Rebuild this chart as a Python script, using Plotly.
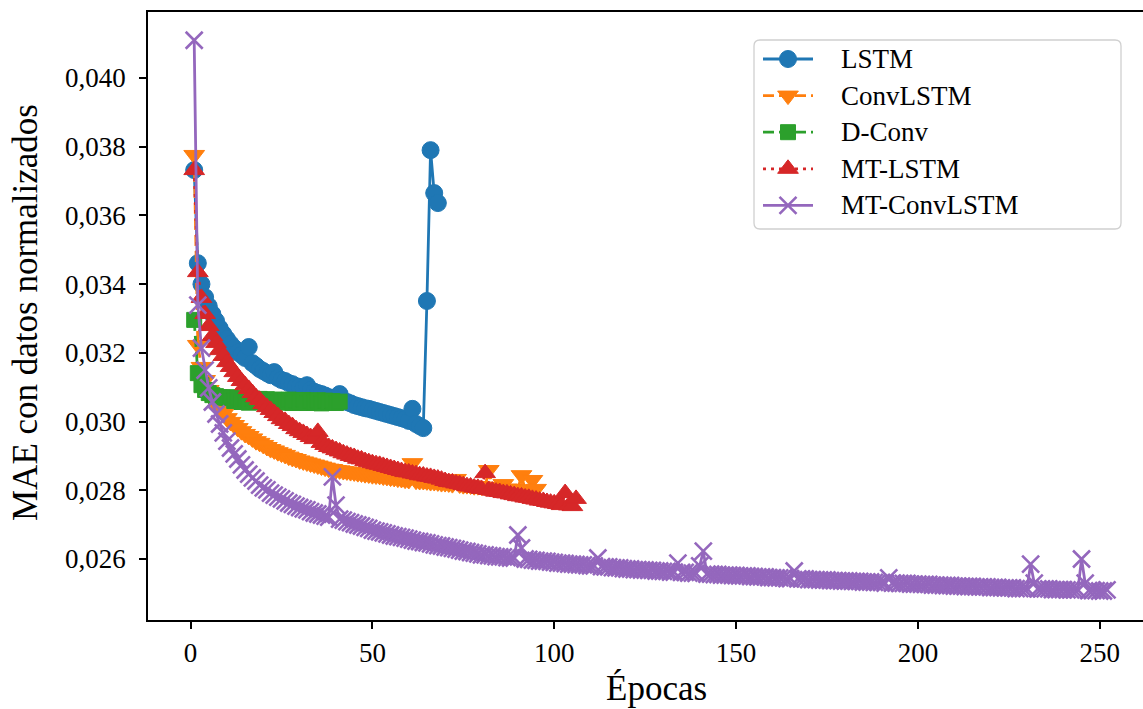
import plotly.graph_objects as go

# ---- data: validation MAE (normalised) per training epoch ----
SERIES_NAMES = ["LSTM", "ConvLSTM", "D-Conv", "MT-LSTM", "MT-ConvLSTM"]

mae_lstm = [
    0.03732, 0.03461, 0.03400, 0.03362, 0.03336, 0.03313, 0.03293, 0.03272, 0.03255, 0.03240,
    0.03226, 0.03214, 0.03202, 0.03194, 0.03185, 0.03217, 0.03170, 0.03162, 0.03153, 0.03147,
    0.03141, 0.03135, 0.03144, 0.03127, 0.03121, 0.03118, 0.03112, 0.03109, 0.03103, 0.03101,
    0.03098, 0.03106, 0.03092, 0.03087, 0.03083, 0.03080, 0.03076, 0.03071, 0.03069, 0.03066,
    0.03080, 0.03060, 0.03057, 0.03053, 0.03048, 0.03045, 0.03042, 0.03039, 0.03037, 0.03034,
    0.03031, 0.03028, 0.03025, 0.03022, 0.03019, 0.03016, 0.03013, 0.03010, 0.03007, 0.03002,
    0.03037, 0.02993, 0.02987, 0.02981, 0.03351, 0.03790, 0.03665, 0.03636,
]

mae_convlstm = [
    0.03776, 0.03223, 0.03159, 0.03121, 0.03092, 0.03069, 0.03051, 0.03037, 0.03022, 0.03010,
    0.02999, 0.02990, 0.02981, 0.02972, 0.02964, 0.02958, 0.02951, 0.02943, 0.02938, 0.02932,
    0.02926, 0.02920, 0.02916, 0.02911, 0.02907, 0.02903, 0.02898, 0.02894, 0.02891, 0.02887,
    0.02884, 0.02881, 0.02878, 0.02875, 0.02872, 0.02869, 0.02866, 0.02863, 0.02862, 0.02859,
    0.02858, 0.02856, 0.02855, 0.02853, 0.02852, 0.02850, 0.02849, 0.02847, 0.02846, 0.02844,
    0.02843, 0.02842, 0.02840, 0.02839, 0.02837, 0.02836, 0.02834, 0.02833, 0.02831, 0.02830,
    0.02879, 0.02828, 0.02827, 0.02827, 0.02826, 0.02824, 0.02824, 0.02823, 0.02821, 0.02821,
    0.02820, 0.02818, 0.02833, 0.02817, 0.02815, 0.02815, 0.02814, 0.02812, 0.02812, 0.02811,
    0.02810, 0.02859, 0.02808, 0.02807, 0.02807, 0.02818, 0.02805, 0.02804, 0.02804, 0.02802,
    0.02844, 0.02801, 0.02801, 0.02830, 0.02804,
]

mae_dconv = [
    0.03296, 0.03141, 0.03106, 0.03092, 0.03083, 0.03077, 0.03074, 0.03071, 0.03070, 0.03069,
    0.03071, 0.03060, 0.03069, 0.03057, 0.03066, 0.03055, 0.03067, 0.03058, 0.03066, 0.03056,
    0.03065, 0.03057, 0.03064, 0.03055, 0.03063, 0.03057, 0.03064, 0.03054, 0.03062, 0.03056,
    0.03063, 0.03054, 0.03061, 0.03055, 0.03062, 0.03053, 0.03061, 0.03055, 0.03060, 0.03054,
    0.03058,
]

mae_mtlstm = [
    0.03732, 0.03435, 0.03360, 0.03313, 0.03278, 0.03249, 0.03229, 0.03208, 0.03191, 0.03173,
    0.03159, 0.03144, 0.03130, 0.03118, 0.03106, 0.03095, 0.03083, 0.03071, 0.03063, 0.03051,
    0.03042, 0.03034, 0.03025, 0.03016, 0.03007, 0.03002, 0.02993, 0.02987, 0.02978, 0.02972,
    0.02967, 0.02961, 0.02955, 0.02949, 0.02970, 0.02938, 0.02932, 0.02926, 0.02922, 0.02917,
    0.02913, 0.02908, 0.02904, 0.02900, 0.02897, 0.02892, 0.02890, 0.02885, 0.02882, 0.02879,
    0.02876, 0.02874, 0.02871, 0.02868, 0.02865, 0.02862, 0.02859, 0.02856, 0.02853, 0.02852,
    0.02849, 0.02847, 0.02844, 0.02843, 0.02840, 0.02839, 0.02836, 0.02834, 0.02831, 0.02827,
    0.02824, 0.02823, 0.02820, 0.02818, 0.02815, 0.02812, 0.02811, 0.02808, 0.02807, 0.02804,
    0.02850, 0.02801, 0.02799, 0.02796, 0.02795, 0.02792, 0.02791, 0.02788, 0.02786, 0.02783,
    0.02782, 0.02779, 0.02778, 0.02775, 0.02773, 0.02770, 0.02769, 0.02766, 0.02764, 0.02762,
    0.02760, 0.02757, 0.02792, 0.02756, 0.02754, 0.02775,
]

mae_mtconvlstm = [
    0.04110, 0.03339, 0.03214, 0.03150, 0.03098, 0.03057, 0.03022, 0.02993, 0.02967, 0.02943,
    0.02923, 0.02906, 0.02891, 0.02874, 0.02859, 0.02847, 0.02836, 0.02827, 0.02815, 0.02807,
    0.02801, 0.02792, 0.02786, 0.02780, 0.02775, 0.02769, 0.02763, 0.02759, 0.02754, 0.02750,
    0.02746, 0.02743, 0.02738, 0.02734, 0.02731, 0.02728, 0.02725, 0.02722, 0.02839, 0.02757,
    0.02716, 0.02713, 0.02709, 0.02706, 0.02702, 0.02699, 0.02696, 0.02692, 0.02689, 0.02684,
    0.02681, 0.02679, 0.02676, 0.02673, 0.02670, 0.02667, 0.02665, 0.02663, 0.02661, 0.02658,
    0.02655, 0.02652, 0.02651, 0.02648, 0.02647, 0.02644, 0.02641, 0.02639, 0.02638, 0.02635,
    0.02633, 0.02631, 0.02629, 0.02626, 0.02623, 0.02622, 0.02619, 0.02617, 0.02615, 0.02612,
    0.02612, 0.02610, 0.02609, 0.02607, 0.02606, 0.02606, 0.02604, 0.02603, 0.02603, 0.02670,
    0.02632, 0.02600, 0.02599, 0.02597, 0.02596, 0.02594, 0.02594, 0.02593, 0.02591, 0.02590,
    0.02588, 0.02588, 0.02587, 0.02585, 0.02585, 0.02584, 0.02583, 0.02583, 0.02581, 0.02580,
    0.02580, 0.02603, 0.02578, 0.02577, 0.02577, 0.02575, 0.02574, 0.02574, 0.02572, 0.02571,
    0.02571, 0.02569, 0.02569, 0.02568, 0.02568, 0.02567, 0.02567, 0.02565, 0.02565, 0.02564,
    0.02564, 0.02562, 0.02562, 0.02588, 0.02561, 0.02561, 0.02559, 0.02559, 0.02558, 0.02580,
    0.02623, 0.02556, 0.02556, 0.02555, 0.02555, 0.02553, 0.02553, 0.02553, 0.02552, 0.02552,
    0.02551, 0.02551, 0.02551, 0.02549, 0.02549, 0.02548, 0.02548, 0.02548, 0.02546, 0.02546,
    0.02545, 0.02545, 0.02545, 0.02543, 0.02543, 0.02565, 0.02542, 0.02542, 0.02542, 0.02540,
    0.02540, 0.02540, 0.02539, 0.02539, 0.02539, 0.02537, 0.02537, 0.02537, 0.02536, 0.02536,
    0.02536, 0.02535, 0.02535, 0.02535, 0.02533, 0.02533, 0.02533, 0.02532, 0.02532, 0.02532,
    0.02530, 0.02545, 0.02530, 0.02530, 0.02529, 0.02529, 0.02529, 0.02527, 0.02527, 0.02527,
    0.02526, 0.02526, 0.02526, 0.02524, 0.02524, 0.02524, 0.02523, 0.02523, 0.02523, 0.02521,
    0.02521, 0.02521, 0.02520, 0.02520, 0.02520, 0.02519, 0.02519, 0.02519, 0.02519, 0.02517,
    0.02517, 0.02517, 0.02516, 0.02516, 0.02516, 0.02516, 0.02514, 0.02514, 0.02514, 0.02514,
    0.02585, 0.02530, 0.02513, 0.02513, 0.02513, 0.02513, 0.02511, 0.02511, 0.02511, 0.02511,
    0.02510, 0.02510, 0.02510, 0.02510, 0.02600, 0.02530, 0.02508, 0.02508, 0.02508, 0.02507,
    0.02507, 0.02510,
]

X_TICKS = [0, 50, 100, 150, 200, 250]
Y_TICKS = [0.026, 0.028, 0.030, 0.032, 0.034, 0.036, 0.038, 0.040]

X_TITLE = "Épocas"
Y_TITLE = "MAE con datos normalizados"

# ---- styling (matplotlib tab10 look) ----
COLORS = ["#1f77b4", "#ff7f0e", "#2ca02c", "#d62728", "#9467bd"]
DASHES = ["solid", "11px,5px", "11px,5px", "3px,5px", "solid"]
SYMBOLS = ["circle", "triangle-down", "square", "triangle-up", "x-thin"]
SIZES = [17, 18, 15, 18, 17]
FONT = "Liberation Serif"

all_series = [mae_lstm, mae_convlstm, mae_dconv, mae_mtlstm, mae_mtconvlstm]

# plot-area geometry in pixels
W, H = 1143, 709
PLOT_L, PLOT_R, PLOT_T, PLOT_B = 148, 1143, 12, 620


def px_to_paper(px, py):
    return ((px - PLOT_L) / (PLOT_R - PLOT_L), (PLOT_B - py) / (PLOT_B - PLOT_T))


def marker_style(i):
    c = COLORS[i]
    if SYMBOLS[i] == "x-thin":
        return dict(symbol="x-thin", size=SIZES[i], color=c, line=dict(color=c, width=2.6))
    return dict(symbol=SYMBOLS[i], size=SIZES[i], color=c, line=dict(color=c, width=1))


fig = go.Figure()

for i, (name, vals) in enumerate(zip(SERIES_NAMES, all_series)):
    epochs = list(range(1, len(vals) + 1))
    fig.add_trace(go.Scatter(
        x=epochs, y=vals, name=name, mode="lines+markers",
        line=dict(color=COLORS[i], width=2.8, dash=DASHES[i]),
        marker=marker_style(i), showlegend=False, hoverinfo="skip",
    ))

# ---- legend drawn on a pixel-scaled overlay axis ----
LEG_BOX = (754, 40, 1121, 229)
LEG_ROW0, LEG_ROW_STEP = 59, 36.6
LEG_LINE_X = (763, 813)
LEG_TEXT_X = 839

for i, name in enumerate(SERIES_NAMES):
    yrow = LEG_ROW0 + i * LEG_ROW_STEP
    fig.add_trace(go.Scatter(
        x=list(LEG_LINE_X), y=[yrow, yrow], xaxis="x2", yaxis="y2", mode="lines",
        line=dict(color=COLORS[i], width=2.8, dash=DASHES[i]),
        showlegend=False, hoverinfo="skip", cliponaxis=False,
    ))
    fig.add_trace(go.Scatter(
        x=[sum(LEG_LINE_X) / 2], y=[yrow], xaxis="x2", yaxis="y2", mode="markers",
        marker=marker_style(i), showlegend=False, hoverinfo="skip", cliponaxis=False,
    ))
    fig.add_annotation(
        x=LEG_TEXT_X, y=yrow, xref="x2", yref="y2", text=name, showarrow=False,
        xanchor="left", yanchor="middle", font=dict(family=FONT, size=27, color="black"),
    )

x0, y0, x1, y1 = LEG_BOX
r = 6
box_path = (
    f"M{x0 + r},{y0} L{x1 - r},{y0} Q{x1},{y0} {x1},{y0 + r} "
    f"L{x1},{y1 - r} Q{x1},{y1} {x1 - r},{y1} "
    f"L{x0 + r},{y1} Q{x0},{y1} {x0},{y1 - r} "
    f"L{x0},{y0 + r} Q{x0},{y0} {x0 + r},{y0} Z"
)
fig.add_shape(type="path", path=box_path, xref="x2", yref="y2",
              line=dict(color="#d0d0d0", width=1.3), fillcolor="white", layer="below")

# axis titles (paper coordinates, placed outside the plot area)
tx, ty = px_to_paper(656, 688)
fig.add_annotation(x=tx, y=ty, xref="paper", yref="paper", text=X_TITLE, showarrow=False,
                   xanchor="center", yanchor="middle",
                   font=dict(family=FONT, size=35, color="black"))
tx, ty = px_to_paper(25, 313)
fig.add_annotation(x=tx, y=ty, xref="paper", yref="paper", text=Y_TITLE, showarrow=False,
                   textangle=-90, xanchor="center", yanchor="middle",
                   font=dict(family=FONT, size=35, color="black"))

axis_common = dict(
    showgrid=False, zeroline=False, showline=True, linecolor="black", linewidth=1.5,
    ticks="outside", ticklen=7, tickwidth=1.5, tickcolor="black",
    tickfont=dict(family=FONT, size=27, color="black"),
)

fig.update_layout(
    width=W, height=H,
    margin=dict(l=PLOT_L, r=W - PLOT_R, t=PLOT_T, b=H - PLOT_B),
    paper_bgcolor="white", plot_bgcolor="white",
    separators=",.", showlegend=False, hovermode=False,
    font=dict(family=FONT, color="black"),
    xaxis=dict(range=[-11.7, 261.9], tickvals=X_TICKS, mirror=True,
               ticklabelstandoff=1, **axis_common),
    yaxis=dict(range=[0.024225, 0.041921], tickvals=Y_TICKS, tickformat=".3f",
               ticklabelstandoff=8, **axis_common),
    xaxis2=dict(overlaying="x", range=[PLOT_L, PLOT_R], visible=False, fixedrange=True),
    yaxis2=dict(overlaying="y", range=[PLOT_B, PLOT_T], visible=False, fixedrange=True),
)

fig.write_html("out.html")
